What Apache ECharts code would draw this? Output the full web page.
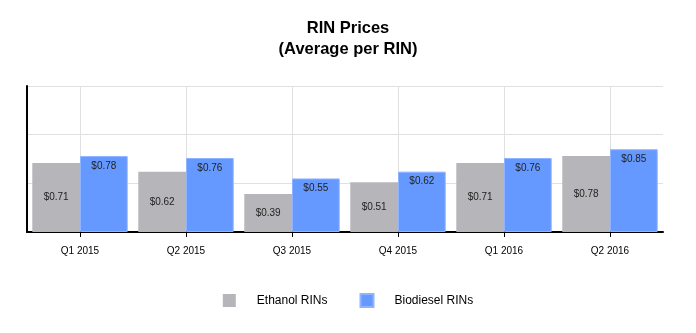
<!DOCTYPE html>
<html>
<head>
<meta charset="utf-8">
<script src="https://cdn.jsdelivr.net/npm/echarts@6/dist/echarts.min.js"></script>
<style>
  html, body { margin: 0; padding: 0; background: #fff; }
  #chart { width: 696px; height: 333px; }
</style>
</head>
<body>
<div id="chart"></div>
<script>
// Quarterly average RIN prices (USD per RIN)
const quarters = ['Q1 2015', 'Q2 2015', 'Q3 2015', 'Q4 2015', 'Q1 2016', 'Q2 2016'];
const ethanolRins = [0.71, 0.62, 0.39, 0.51, 0.71, 0.78];
const biodieselRins = [0.78, 0.76, 0.55, 0.62, 0.76, 0.85];

const FONT = '"Liberation Sans", Arial, sans-serif';
const fmt = p => '$' + p.value.toFixed(2);

const chart = echarts.init(document.getElementById('chart'));
chart.setOption({
  animation: false,
  textStyle: { fontFamily: FONT },
  title: {
    text: 'RIN Prices\n(Average per RIN)',
    left: 'center',
    top: 13,
    textStyle: { fontFamily: FONT, fontSize: 16.5, fontWeight: 'bold', color: '#000', lineHeight: 21 }
  },
  legend: {
    top: 288,
    left: 'center',
    itemWidth: 13,
    itemHeight: 13,
    itemGap: 32,
    icon: 'rect',
    textStyle: { fontFamily: FONT, fontSize: 12, color: '#000', padding: [0, 0, 0, 16] },
    data: ['Ethanol RINs', 'Biodiesel RINs']
  },
  grid: { left: 27, right: 33, top: 86, bottom: 101 },
  xAxis: {
    type: 'category',
    data: quarters,
    axisLine: { lineStyle: { color: '#000', width: 2 } },
    axisTick: { show: true, alignWithLabel: true, length: 5, lineStyle: { color: '#000' } },
    axisLabel: { fontFamily: FONT, fontSize: 10, color: '#000', margin: 14 },
    splitLine: { show: true, alignWithLabel: true, lineStyle: { color: '#e0e0e0' } }
  },
  yAxis: {
    type: 'value',
    min: 0,
    max: 1.5,
    interval: 0.5,
    axisLabel: { show: false },
    axisTick: { show: false },
    axisLine: { show: true, lineStyle: { color: '#000', width: 2 } },
    splitLine: { lineStyle: { color: '#e0e0e0' } }
  },
  series: [
    {
      name: 'Ethanol RINs',
      type: 'bar',
      data: ethanolRins,
      barGap: '0%',
      barCategoryGap: '10%',
      itemStyle: { color: '#b6b6ba' },
      label: { show: true, position: 'inside', formatter: fmt, fontFamily: FONT, fontSize: 10, color: '#222' }
    },
    {
      name: 'Biodiesel RINs',
      type: 'bar',
      data: biodieselRins,
      barGap: '0%',
      barCategoryGap: '10%',
      itemStyle: { color: '#6699ff', borderColor: '#8fb3ff', borderWidth: 1 },
      label: { show: true, position: 'insideTop', distance: 5, formatter: fmt, fontFamily: FONT, fontSize: 10, color: '#222' }
    }
  ]
});
</script>
</body>
</html>
